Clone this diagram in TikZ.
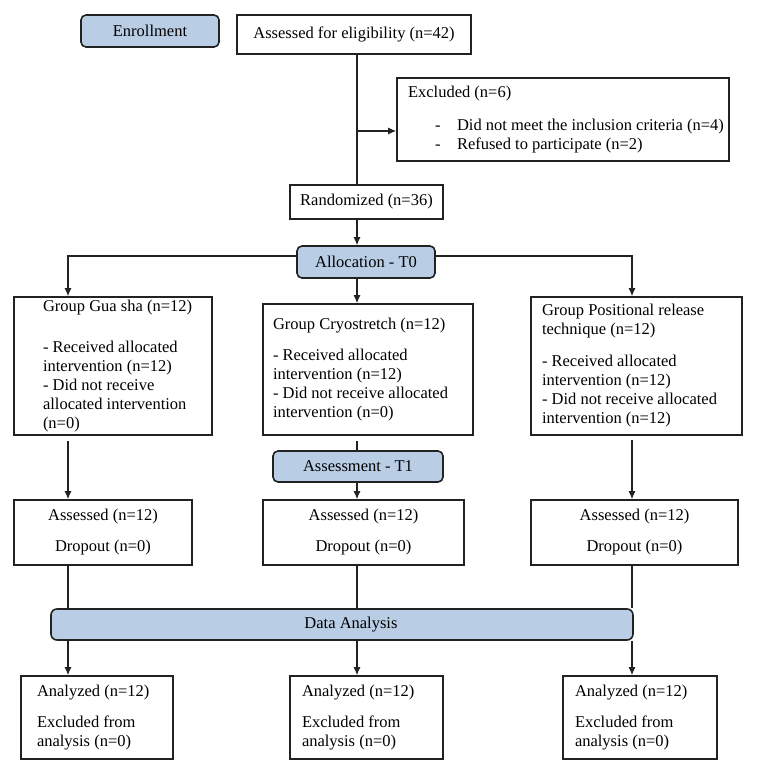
\documentclass[tikz,border=0pt]{standalone}
\usepackage{fontspec}
\setmainfont{Liberation Serif}
\usetikzlibrary{arrows.meta}
\definecolor{bluefill}{HTML}{B9CDE5}
\definecolor{edge}{HTML}{222222}
\newcommand{\leftblock}[2]{\makebox[#1][l]{\begin{tabular}{@{}l@{}}#2\end{tabular}}}
\newcommand{\midblock}[1]{\begin{tabular}{@{}c@{}}#1\end{tabular}}
\newcommand{\dashitem}{\makebox[49pt][l]{\hspace*{27pt}-}}
\begin{document}
\begin{tikzpicture}[x=1pt,y=-1pt,
  every node/.style={font=\fontsize{16.5}{19}\selectfont},
  box/.style={draw=edge, line width=1.6pt, fill=white, inner sep=0pt},
  phase/.style={draw=edge, line width=1.6pt, fill=bluefill, rounded corners=5pt, inner sep=0pt},
  conn/.style={draw=edge, line width=1.2pt},
  arr/.style={conn, -{Latex[length=8pt,width=7pt]}}]
\useasboundingbox (0,0) rectangle (756,776);
\fill[white] (0,0) rectangle (756,776);

\node[phase, minimum width=138pt, minimum height=32pt] (enroll) at (150,31) {Enrollment};
\node[box, minimum width=234pt, minimum height=39pt] (elig) at (354,34.5) {Assessed for eligibility (n=42)};
\node[box, minimum width=332pt, minimum height=83pt] (excl) at (563,119.5) {\leftblock{310pt}{Excluded (n=6)\\[14pt]
  \dashitem Did not meet the inclusion criteria (n=4)\\
  \dashitem Refused to participate (n=2)}};
\node[box, minimum width=153pt, minimum height=34pt] (rand) at (366.5,202) {Randomized (n=36)};
\node[phase, minimum width=138pt, minimum height=32pt] (alloc) at (366,262) {Allocation - T0};

\node[box, minimum width=198pt, minimum height=138pt] (gua) at (113,366) {\leftblock{140pt}{Group Gua sha (n=12)\\[22pt]
  - Received allocated\\ intervention (n=12)\\ - Did not receive\\ allocated intervention\\ (n=0)}};
\node[box, minimum width=210pt, minimum height=131pt] (cryo) at (368,369.5) {\leftblock{190pt}{Group Cryostretch (n=12)\\[12pt]
  - Received allocated\\ intervention (n=12)\\ - Did not receive allocated\\ intervention (n=0)}};
\node[box, minimum width=211pt, minimum height=138pt] (pos) at (636.5,366) {\leftblock{189pt}{Group Positional release\\ technique (n=12)\\[13pt]
  - Received allocated\\ intervention (n=12)\\ - Did not receive allocated\\ intervention (n=12)}};

\node[phase, minimum width=170pt, minimum height=31pt] (at1) at (358,466.5) {Assessment - T1};

\node[box, minimum width=178pt, minimum height=65pt] (as1) at (103,532.5) {\midblock{Assessed (n=12)\\[12pt] Dropout (n=0)}};
\node[box, minimum width=201pt, minimum height=65pt] (as2) at (363.5,532.5) {\midblock{Assessed (n=12)\\[12pt] Dropout (n=0)}};
\node[box, minimum width=207pt, minimum height=65pt] (as3) at (634.5,532.5) {\midblock{Assessed (n=12)\\[12pt] Dropout (n=0)}};

\node[phase, minimum width=582pt, minimum height=31pt, rounded corners=6pt] (da) at (342,624.5) {\hspace*{18pt}Data Analysis};

\node[box, minimum width=152pt, minimum height=83pt] (an1) at (97,717.5) {\leftblock{120pt}{Analyzed (n=12)\\[12pt] Excluded from\\ analysis (n=0)}};
\node[box, minimum width=153pt, minimum height=83pt] (an2) at (366.5,717.5) {\leftblock{129pt}{Analyzed (n=12)\\[12pt] Excluded from\\ analysis (n=0)}};
\node[box, minimum width=154pt, minimum height=83pt] (an3) at (640,717.5) {\leftblock{130pt}{Analyzed (n=12)\\[12pt] Excluded from\\ analysis (n=0)}};

\coordinate (cL) at (68,0);
\coordinate (cM) at (357,0);
\coordinate (cR) at (632,0);
\coordinate (exin) at ([yshift=-11.5pt]excl.west);
\coordinate (alL) at ([yshift=6pt]alloc.west);
\coordinate (alR) at ([yshift=6pt]alloc.east);

\draw[conn] (elig.south -| cM) -- (rand.north -| cM);
\draw[arr] (exin -| cM) -- (exin);
\draw[arr] (rand.south -| cM) -- (alloc.north -| cM);
\draw[arr] (alL) -| (gua.north -| cL);
\draw[arr] (alR) -| (pos.north -| cR);
\draw[arr] (alloc.south -| cM) -- (cryo.north -| cM);
\draw[arr, shorten <=5pt] (gua.south -| cL) -- (as1.north -| cL);
\draw[conn, shorten <=5pt] (cryo.south -| cM) -- (at1.north -| cM);
\draw[arr] (at1.south -| cM) -- (as2.north -| cM);
\draw[arr, shorten <=4pt] (pos.south -| cR) -- (as3.north -| cR);
\draw[conn] (as1.south -| cL) -- (da.north -| cL);
\draw[conn] (as2.south -| cM) -- (da.north -| cM);
\draw[conn] (as3.south -| cR) -- (da.north -| cR);
\draw[arr] (da.south -| cL) -- (an1.north -| cL);
\draw[arr] (da.south -| cM) -- (an2.north -| cM);
\draw[arr] (da.south -| cR) -- (an3.north -| cR);
\end{tikzpicture}
\end{document}
